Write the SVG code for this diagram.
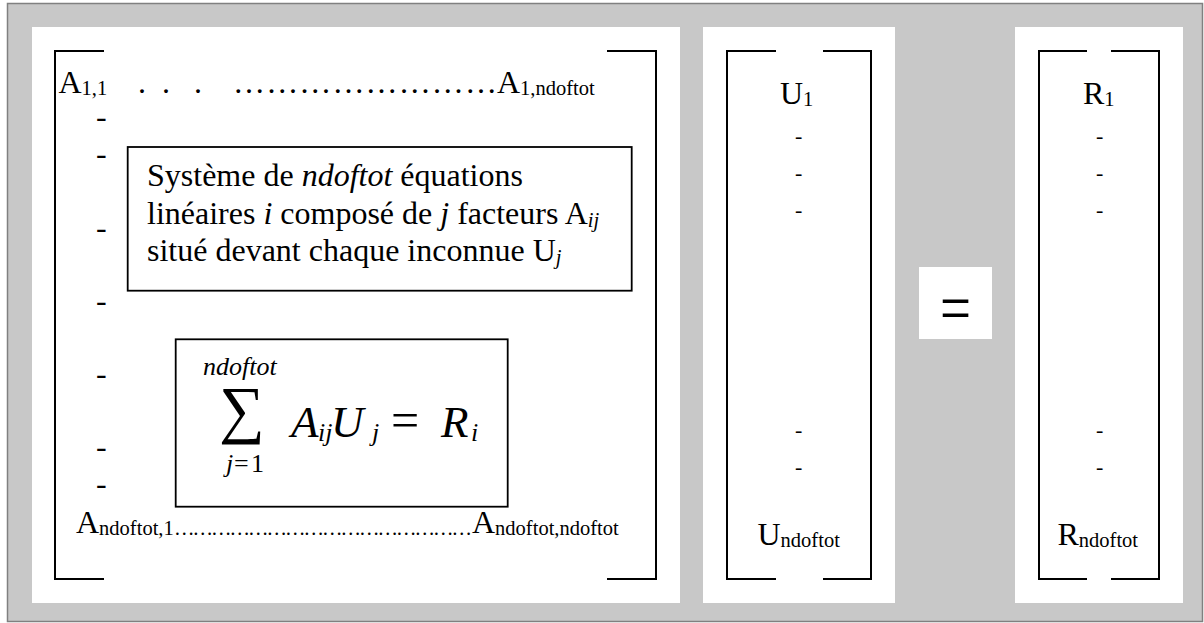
<svg xmlns="http://www.w3.org/2000/svg" width="1204" height="623" viewBox="0 0 1204 623">
<style>
.t{font-family:"Liberation Serif","Times New Roman",serif;font-size:32px;fill:#000}
.s{font-size:20.5px}
.it{font-style:italic}
.br{fill:none;stroke:#000;stroke-width:2}
.box{fill:#fff;stroke:#000;stroke-width:1.8}
.panel{fill:#fff}
.d{font-size:22px}
.m{font-size:26px}
.big{font-size:45px}
.sig{font-size:64px}
.eq{font-size:50px}
.eqbig{font-size:55px}
</style>
<rect x="0" y="0" width="1204" height="623" fill="#fff"/>
<g id="frame">
<rect x="7.5" y="3.5" width="1195" height="618" fill="#c8c8c8" stroke="#808080" stroke-width="1.5"/>
</g>
<g id="matrix-A">
<rect class="panel" x="32" y="27" width="648" height="576"/>
<path class="br" d="M104,51H55V579H104"/>
<path class="br" d="M607,51H656V579H607"/>
<text class="t" x="58.5" y="93">A<tspan class="s" dy="2">1,1</tspan></text>
<text class="t"><tspan x="138" y="93">.</tspan><tspan x="162" y="93">.</tspan><tspan x="194" y="93">.</tspan></text>
<text class="t" x="233" y="93" textLength="264" lengthAdjust="spacing">……………………</text>
<text class="t" x="497" y="93">A<tspan class="s" dy="2">1,ndoftot</tspan></text>
<text class="t"><tspan x="96" y="127">-</tspan><tspan x="96" y="164">-</tspan><tspan x="96" y="238">-</tspan><tspan x="96" y="311">-</tspan><tspan x="96" y="384">-</tspan><tspan x="96" y="457">-</tspan><tspan x="96" y="494">-</tspan></text>
<text class="t" x="76" y="533">A<tspan class="s" dy="2">ndoftot,1</tspan></text>
<text class="t s" x="174" y="535" textLength="298" lengthAdjust="spacing">…………………………………………</text>
<text class="t" x="472" y="533">A<tspan class="s" dy="2">ndoftot,ndoftot</tspan></text>
</g>
<g id="text-box">
<rect class="box" x="127.7" y="147" width="504" height="143.7"/>
<text class="t" x="147" y="186">Système de <tspan class="it">ndoftot</tspan> équations</text>
<text class="t" x="147" y="223.5">linéaires <tspan class="it">i</tspan> composé de <tspan class="it">j</tspan> facteurs A<tspan class="s it" dy="3">ij</tspan></text>
<text class="t" x="147" y="261">situé devant chaque inconnue U<tspan class="s it" dy="3">j</tspan></text>
</g>
<g id="sum-box">
<rect class="box" x="175.7" y="339.3" width="332" height="167.4" stroke-width="2"/>
<text class="t m it" x="203" y="375">ndoftot</text>
<text class="t sig" x="219" y="430.5">∑</text>
<text class="t m"><tspan class="it" x="226" y="471.7">j</tspan><tspan x="234" y="471.7">=</tspan><tspan x="251" y="471.7">1</tspan></text>
<text class="t big it" x="291" y="437">A</text>
<text class="t m it" x="318" y="441">ij</text>
<text class="t big it" x="331" y="437">U</text>
<text class="t m it" x="372" y="441">j</text>
<text class="t eq" x="391" y="437">=</text>
<text class="t big it" x="441" y="437">R</text>
<text class="t m it" x="471" y="441">i</text>
</g>
<g id="vector-U">
<rect class="panel" x="703" y="27" width="192" height="576"/>
<path class="br" d="M776,51H727V579H776"/>
<path class="br" d="M823,51H871V579H823"/>
<text class="t" x="780" y="104">U<tspan class="s" dy="2">1</tspan></text>
<text class="t d"><tspan x="795" y="143.3">-</tspan><tspan x="795" y="180">-</tspan><tspan x="795" y="217.3">-</tspan><tspan x="795" y="437.3">-</tspan><tspan x="795" y="474.3">-</tspan></text>
<text class="t" x="757.5" y="545">U<tspan class="s" dy="2">ndoftot</tspan></text>
</g>
<g id="equals">
<rect class="panel" x="919" y="267" width="73" height="72"/>
<text class="t eqbig" x="0" y="12.7" text-anchor="middle" transform="translate(955.5,316.5) scale(1,1.25)">=</text>
</g>
<g id="vector-R">
<rect class="panel" x="1015" y="27" width="168" height="576"/>
<path class="br" d="M1087,51H1039V579H1087"/>
<path class="br" d="M1111,51H1159V579H1111"/>
<text class="t" x="1083" y="104">R<tspan class="s" dy="2">1</tspan></text>
<text class="t d"><tspan x="1096" y="143.3">-</tspan><tspan x="1096" y="180">-</tspan><tspan x="1096" y="217.3">-</tspan><tspan x="1096" y="437.3">-</tspan><tspan x="1096" y="474.3">-</tspan></text>
<text class="t" x="1057.5" y="545">R<tspan class="s" dy="2">ndoftot</tspan></text>
</g>
</svg>
